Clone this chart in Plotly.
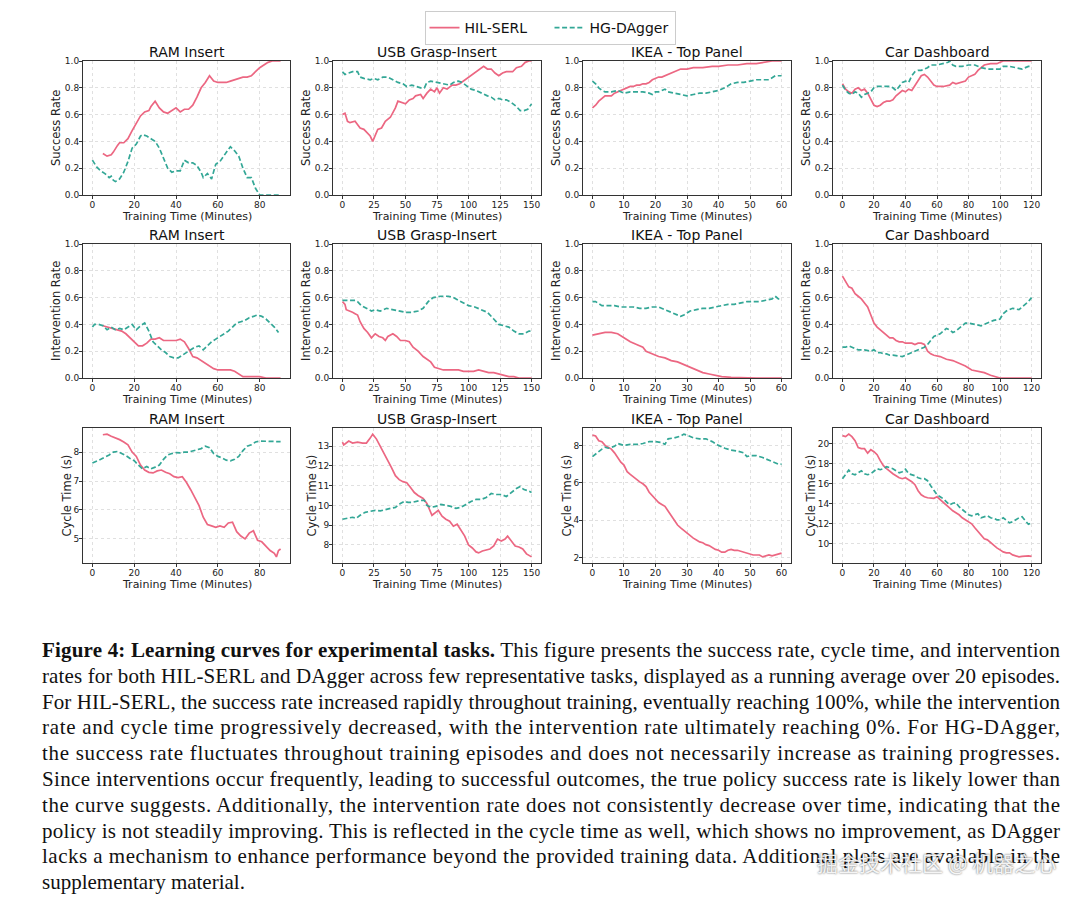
import plotly.graph_objects as go
from plotly.subplots import make_subplots

# ---------------- data ----------------
tasks = ["RAM Insert", "USB Grasp-Insert", "IKEA - Top Panel", "Car Dashboard"]
metric_titles = ["Success Rate", "Intervention Rate", "Cycle Time (s)"]
x_title = "Training Time (Minutes)"
series_names = ["HIL-SERL", "HG-DAgger"]
x_ticks = [[0, 20, 40, 60, 80], [0, 25, 50, 75, 100, 125, 150], [0, 10, 20, 30, 40, 50, 60], [0, 20, 40, 60, 80, 100, 120]]
cycle_ticks = [[5, 6, 7, 8], [8, 9, 10, 11, 12, 13], [2, 4, 6, 8], [10, 12, 14, 16, 18, 20]]
rate_ticks = [0.0, 0.2, 0.4, 0.6, 0.8, 1.0]

# Success rate
ram_sr_hil_t = [5, 7, 9, 10, 12, 13, 15, 17, 19, 21, 23, 25, 27, 28, 30, 32, 34, 36, 38, 40, 42, 44, 46, 48, 50, 52, 54, 56, 58, 60, 62, 64, 66, 68, 70, 72, 74, 76, 78, 80, 82, 84, 86, 88, 90]
ram_sr_hil = [0.31, 0.29, 0.30, 0.32, 0.37, 0.39, 0.39, 0.42, 0.48, 0.53, 0.59, 0.62, 0.63, 0.66, 0.70, 0.65, 0.62, 0.61, 0.63, 0.65, 0.62, 0.64, 0.64, 0.67, 0.73, 0.80, 0.84, 0.89, 0.85, 0.84, 0.84, 0.84, 0.85, 0.86, 0.87, 0.88, 0.88, 0.89, 0.92, 0.95, 0.97, 0.99, 1.0, 1.0, 1.0]
ram_sr_dag_t = [0, 2, 4, 6, 8, 9, 10, 11, 13, 15, 17, 19, 21, 23, 24, 26, 28, 30, 32, 34, 36, 38, 40, 42, 44, 46, 48, 50, 52, 53, 55, 57, 59, 61, 63, 65, 66, 68, 70, 72, 74, 76, 78, 80, 82, 85, 90]
ram_sr_dag = [0.26, 0.21, 0.18, 0.16, 0.13, 0.14, 0.11, 0.10, 0.12, 0.17, 0.25, 0.35, 0.38, 0.44, 0.45, 0.44, 0.42, 0.40, 0.35, 0.28, 0.20, 0.17, 0.18, 0.18, 0.26, 0.24, 0.24, 0.22, 0.17, 0.13, 0.16, 0.12, 0.23, 0.25, 0.30, 0.34, 0.36, 0.33, 0.29, 0.20, 0.13, 0.13, 0.05, 0.0, 0.0, 0.0, 0.0]

usb_sr_hil_t = [0, 2, 4, 6, 10, 12, 14, 17, 19, 22, 24, 26, 28, 31, 34, 38, 42, 44, 47, 50, 53, 56, 58, 62, 64, 67, 70, 73, 75, 77, 80, 83, 87, 90, 93, 96, 99, 102, 105, 108, 112, 115, 118, 121, 124, 127, 130, 135, 138, 142, 145, 148, 150]
usb_sr_hil = [0.60, 0.61, 0.55, 0.54, 0.55, 0.52, 0.50, 0.49, 0.47, 0.44, 0.40, 0.45, 0.49, 0.50, 0.55, 0.58, 0.65, 0.70, 0.69, 0.68, 0.71, 0.72, 0.74, 0.75, 0.72, 0.76, 0.79, 0.77, 0.80, 0.76, 0.80, 0.79, 0.82, 0.82, 0.83, 0.85, 0.87, 0.89, 0.91, 0.93, 0.96, 0.94, 0.94, 0.91, 0.89, 0.91, 0.92, 0.92, 0.95, 0.96, 0.99, 1.0, 1.0]
usb_sr_dag_t = [0, 2, 5, 8, 12, 14, 17, 22, 25, 28, 32, 36, 40, 44, 48, 51, 55, 58, 62, 65, 67, 70, 75, 80, 85, 88, 92, 95, 98, 102, 106, 110, 115, 118, 121, 124, 127, 130, 134, 138, 141, 144, 147, 150]
usb_sr_dag = [0.92, 0.90, 0.91, 0.92, 0.92, 0.88, 0.87, 0.86, 0.87, 0.86, 0.88, 0.88, 0.86, 0.84, 0.83, 0.81, 0.82, 0.81, 0.80, 0.80, 0.84, 0.85, 0.84, 0.83, 0.82, 0.84, 0.85, 0.84, 0.82, 0.79, 0.78, 0.76, 0.74, 0.73, 0.71, 0.72, 0.71, 0.71, 0.69, 0.66, 0.63, 0.63, 0.64, 0.68]

ikea_sr_hil_t = [0, 1, 2, 3, 4, 5, 6, 7, 8, 9, 10, 11, 12, 13, 14, 15, 16, 17, 18, 19, 20, 21, 22, 23, 24, 25, 26, 27, 28, 30, 32, 35, 38, 40, 43, 46, 49, 52, 55, 57, 60]
ikea_sr_hil = [0.65, 0.67, 0.70, 0.72, 0.74, 0.74, 0.74, 0.76, 0.77, 0.78, 0.79, 0.80, 0.81, 0.81, 0.82, 0.82, 0.83, 0.83, 0.84, 0.86, 0.87, 0.88, 0.88, 0.89, 0.90, 0.91, 0.92, 0.93, 0.94, 0.94, 0.95, 0.95, 0.96, 0.96, 0.97, 0.97, 0.98, 0.98, 0.99, 1.0, 1.0]
ikea_sr_dag_t = [0, 1, 2, 3, 4, 6, 8, 10, 12, 14, 16, 18, 19, 20, 21, 23, 24, 26, 28, 30, 32, 34, 36, 38, 40, 42, 44, 46, 48, 50, 52, 54, 56, 58, 59, 60]
ikea_sr_dag = [0.85, 0.83, 0.80, 0.78, 0.77, 0.77, 0.78, 0.76, 0.77, 0.77, 0.77, 0.76, 0.75, 0.77, 0.77, 0.79, 0.77, 0.76, 0.75, 0.74, 0.75, 0.76, 0.76, 0.77, 0.78, 0.80, 0.83, 0.84, 0.84, 0.85, 0.86, 0.86, 0.86, 0.89, 0.89, 0.89]

car_sr_hil_t = [0, 1, 2, 4, 6, 8, 10, 12, 14, 16, 18, 20, 22, 24, 26, 28, 30, 32, 34, 36, 38, 40, 42, 44, 46, 48, 50, 52, 54, 56, 58, 60, 64, 68, 70, 72, 76, 78, 80, 84, 86, 90, 94, 98, 100, 102, 120]
car_sr_hil = [0.83, 0.81, 0.79, 0.77, 0.76, 0.79, 0.80, 0.78, 0.79, 0.76, 0.72, 0.67, 0.66, 0.67, 0.69, 0.70, 0.70, 0.71, 0.74, 0.76, 0.78, 0.77, 0.79, 0.78, 0.82, 0.86, 0.89, 0.90, 0.88, 0.85, 0.82, 0.81, 0.81, 0.82, 0.84, 0.83, 0.84, 0.85, 0.88, 0.90, 0.93, 0.97, 0.98, 0.98, 0.99, 1.0, 1.0]
car_sr_dag_t = [0, 2, 4, 6, 8, 10, 12, 14, 16, 18, 20, 22, 26, 30, 32, 34, 36, 38, 40, 42, 44, 46, 48, 50, 54, 56, 60, 64, 67, 68, 70, 72, 76, 80, 84, 88, 92, 96, 100, 102, 106, 110, 114, 118, 120]
car_sr_dag = [0.82, 0.78, 0.76, 0.75, 0.77, 0.76, 0.73, 0.75, 0.76, 0.77, 0.80, 0.81, 0.81, 0.81, 0.80, 0.78, 0.81, 0.84, 0.85, 0.84, 0.89, 0.92, 0.93, 0.93, 0.95, 0.97, 0.97, 0.98, 0.99, 1.0, 0.97, 0.96, 0.96, 0.97, 0.97, 0.95, 0.94, 0.94, 0.94, 0.96, 0.96, 0.95, 0.94, 0.96, 0.96]

# Intervention rate
ram_ir_hil_t = [5, 7, 10, 12, 14, 16, 18, 20, 22, 24, 26, 28, 30, 32, 34, 36, 38, 40, 42, 44, 46, 48, 50, 52, 54, 56, 58, 60, 62, 64, 66, 68, 70, 72, 76, 80, 83, 86, 90]
ram_ir_hil = [0.39, 0.38, 0.37, 0.36, 0.35, 0.33, 0.30, 0.27, 0.24, 0.24, 0.26, 0.29, 0.29, 0.30, 0.28, 0.28, 0.28, 0.28, 0.29, 0.27, 0.22, 0.16, 0.15, 0.13, 0.11, 0.09, 0.07, 0.06, 0.06, 0.06, 0.06, 0.05, 0.03, 0.01, 0.01, 0.01, 0.0, 0.0, 0.0]
ram_ir_dag_t = [0, 1, 3, 5, 7, 9, 11, 13, 15, 17, 19, 21, 23, 25, 27, 29, 31, 33, 35, 37, 39, 41, 43, 45, 47, 49, 51, 53, 55, 57, 59, 61, 63, 65, 67, 69, 71, 73, 75, 77, 79, 81, 83, 85, 87, 89]
ram_ir_dag = [0.38, 0.40, 0.40, 0.39, 0.36, 0.38, 0.36, 0.37, 0.36, 0.38, 0.40, 0.36, 0.39, 0.41, 0.35, 0.27, 0.24, 0.21, 0.19, 0.16, 0.15, 0.15, 0.17, 0.19, 0.21, 0.23, 0.24, 0.21, 0.24, 0.27, 0.29, 0.31, 0.33, 0.35, 0.38, 0.41, 0.42, 0.43, 0.45, 0.46, 0.47, 0.46, 0.44, 0.41, 0.38, 0.34]

usb_ir_hil_t = [0, 2, 3, 6, 8, 10, 12, 14, 17, 20, 23, 26, 29, 32, 34, 36, 40, 43, 46, 50, 53, 56, 60, 64, 67, 70, 73, 76, 80, 84, 88, 92, 96, 100, 104, 108, 112, 116, 120, 124, 128, 132, 136, 140, 150]
usb_ir_hil = [0.57, 0.55, 0.51, 0.50, 0.49, 0.48, 0.47, 0.42, 0.37, 0.34, 0.30, 0.33, 0.31, 0.30, 0.28, 0.31, 0.33, 0.31, 0.28, 0.28, 0.27, 0.23, 0.20, 0.16, 0.14, 0.12, 0.08, 0.07, 0.06, 0.06, 0.06, 0.06, 0.05, 0.05, 0.05, 0.06, 0.05, 0.04, 0.04, 0.03, 0.02, 0.01, 0.01, 0.0, 0.0]
usb_ir_dag_t = [0, 5, 10, 12, 15, 19, 23, 26, 30, 35, 40, 45, 50, 55, 60, 64, 68, 72, 78, 84, 88, 92, 96, 100, 105, 110, 115, 120, 124, 128, 132, 136, 140, 144, 148, 150]
usb_ir_dag = [0.58, 0.58, 0.58, 0.57, 0.54, 0.52, 0.50, 0.51, 0.50, 0.52, 0.51, 0.50, 0.49, 0.49, 0.50, 0.52, 0.57, 0.60, 0.61, 0.61, 0.60, 0.58, 0.56, 0.54, 0.53, 0.51, 0.49, 0.44, 0.40, 0.39, 0.38, 0.35, 0.33, 0.33, 0.35, 0.35]

ikea_ir_hil_t = [0, 2, 4, 6, 8, 10, 12, 14, 16, 17, 19, 21, 23, 25, 27, 29, 31, 33, 35, 37, 39, 41, 44, 48, 52, 60]
ikea_ir_hil = [0.32, 0.33, 0.34, 0.34, 0.33, 0.30, 0.27, 0.25, 0.23, 0.20, 0.18, 0.16, 0.15, 0.13, 0.12, 0.10, 0.08, 0.06, 0.04, 0.03, 0.02, 0.01, 0.005, 0.0, 0.0, 0.0]
ikea_ir_dag_t = [0, 1, 3, 5, 7, 9, 11, 13, 15, 17, 19, 21, 23, 25, 27, 28, 29, 31, 33, 35, 37, 39, 41, 43, 45, 47, 49, 51, 53, 55, 57, 58, 59, 60]
ikea_ir_dag = [0.57, 0.57, 0.54, 0.54, 0.54, 0.53, 0.53, 0.53, 0.52, 0.52, 0.53, 0.53, 0.51, 0.49, 0.47, 0.46, 0.47, 0.50, 0.51, 0.52, 0.52, 0.53, 0.54, 0.55, 0.55, 0.56, 0.57, 0.57, 0.57, 0.58, 0.59, 0.61, 0.59, 0.59]

car_ir_hil_t = [0, 2, 4, 6, 8, 10, 12, 14, 16, 18, 20, 22, 24, 26, 28, 30, 32, 34, 36, 38, 40, 44, 46, 48, 50, 52, 54, 56, 58, 62, 66, 70, 74, 78, 82, 86, 90, 94, 98, 100, 120]
car_ir_hil = [0.76, 0.72, 0.68, 0.67, 0.63, 0.61, 0.59, 0.56, 0.53, 0.47, 0.41, 0.38, 0.36, 0.34, 0.32, 0.30, 0.30, 0.28, 0.27, 0.27, 0.26, 0.26, 0.25, 0.26, 0.26, 0.25, 0.20, 0.18, 0.17, 0.16, 0.14, 0.13, 0.11, 0.09, 0.06, 0.05, 0.04, 0.02, 0.005, 0.0, 0.0]
car_ir_dag_t = [0, 2, 4, 6, 8, 10, 14, 18, 20, 22, 24, 26, 28, 30, 32, 36, 38, 40, 44, 48, 52, 54, 56, 58, 62, 66, 68, 70, 72, 74, 78, 80, 84, 88, 92, 96, 100, 102, 104, 108, 112, 114, 116, 118, 120]
car_ir_dag = [0.23, 0.23, 0.24, 0.23, 0.22, 0.21, 0.21, 0.20, 0.21, 0.19, 0.19, 0.18, 0.18, 0.17, 0.17, 0.16, 0.16, 0.17, 0.19, 0.21, 0.23, 0.25, 0.28, 0.31, 0.33, 0.37, 0.36, 0.34, 0.35, 0.37, 0.41, 0.41, 0.40, 0.39, 0.41, 0.43, 0.44, 0.48, 0.50, 0.52, 0.51, 0.53, 0.55, 0.57, 0.60]

# Cycle time
ram_ct_hil_t = [5, 7, 9, 11, 13, 15, 17, 19, 21, 23, 25, 27, 29, 31, 33, 35, 37, 39, 41, 43, 45, 47, 49, 51, 53, 55, 57, 59, 61, 63, 65, 67, 69, 71, 73, 75, 77, 79, 81, 83, 85, 87, 88, 89, 90]
ram_ct_hil = [8.60, 8.62, 8.55, 8.50, 8.43, 8.35, 8.25, 8.00, 7.85, 7.55, 7.38, 7.30, 7.28, 7.35, 7.38, 7.30, 7.25, 7.15, 7.12, 7.15, 6.95, 6.70, 6.45, 6.15, 5.75, 5.50, 5.45, 5.40, 5.45, 5.40, 5.55, 5.58, 5.25, 5.10, 5.00, 5.20, 5.28, 4.95, 4.90, 4.75, 4.60, 4.50, 4.38, 4.60, 4.65]
ram_ct_dag_t = [0, 2, 4, 6, 8, 10, 12, 14, 16, 18, 20, 22, 24, 26, 28, 30, 32, 34, 36, 38, 40, 42, 44, 46, 48, 50, 52, 54, 56, 58, 60, 62, 64, 66, 68, 70, 72, 74, 76, 78, 80, 84, 88, 90]
ram_ct_dag = [7.62, 7.68, 7.75, 7.83, 7.90, 8.00, 8.02, 7.95, 7.88, 7.78, 7.70, 7.55, 7.42, 7.50, 7.42, 7.48, 7.55, 7.75, 7.90, 7.95, 7.98, 7.97, 8.00, 8.00, 8.05, 8.08, 8.12, 8.20, 8.15, 7.95, 7.85, 7.80, 7.72, 7.70, 7.75, 7.85, 8.05, 8.20, 8.25, 8.35, 8.38, 8.37, 8.38, 8.36]

usb_ct_hil_t = [0, 1, 3, 5, 8, 12, 16, 19, 22, 24, 27, 30, 33, 36, 39, 42, 45, 48, 51, 54, 57, 60, 64, 67, 69, 71, 74, 76, 79, 82, 85, 88, 91, 94, 97, 100, 103, 106, 108, 111, 114, 117, 120, 123, 126, 129, 131, 134, 137, 140, 143, 146, 149, 150]
usb_ct_hil = [13.20, 13.05, 13.15, 13.25, 13.15, 13.20, 13.15, 13.15, 13.40, 13.60, 13.35, 13.00, 12.60, 12.30, 11.90, 11.50, 11.30, 11.20, 11.15, 10.90, 10.65, 10.50, 10.35, 10.10, 9.80, 9.50, 9.65, 9.75, 9.45, 9.30, 9.20, 8.95, 9.05, 8.75, 8.45, 8.00, 7.85, 7.65, 7.60, 7.70, 7.75, 7.80, 7.95, 8.30, 8.20, 8.30, 8.45, 8.20, 7.95, 7.90, 7.80, 7.55, 7.45, 7.40]
usb_ct_dag_t = [0, 4, 8, 11, 14, 18, 22, 26, 30, 34, 38, 42, 46, 49, 52, 55, 58, 62, 65, 67, 70, 74, 78, 82, 86, 90, 94, 98, 102, 106, 110, 114, 118, 122, 126, 130, 134, 138, 141, 144, 147, 150]
usb_ct_dag = [9.30, 9.35, 9.40, 9.35, 9.50, 9.65, 9.70, 9.75, 9.72, 9.80, 9.85, 9.90, 10.10, 10.20, 10.15, 10.15, 10.20, 10.25, 10.25, 10.00, 9.90, 9.95, 10.05, 10.00, 9.95, 9.85, 9.90, 10.05, 10.20, 10.30, 10.30, 10.40, 10.60, 10.55, 10.55, 10.45, 10.65, 10.85, 10.95, 10.80, 10.75, 10.65]

ikea_ct_hil_t = list(range(0, 61))
ikea_ct_hil = [8.55, 8.50, 8.25, 8.20, 8.00, 7.90, 7.80, 7.60, 7.35, 7.10, 6.95, 6.60, 6.45, 6.30, 6.20, 6.05, 5.95, 5.80, 5.50, 5.30, 5.10, 4.95, 4.85, 4.75, 4.50, 4.25, 4.00, 3.75, 3.60, 3.45, 3.35, 3.20, 3.05, 2.95, 2.85, 2.80, 2.70, 2.65, 2.55, 2.45, 2.40, 2.30, 2.30, 2.40, 2.45, 2.40, 2.40, 2.35, 2.30, 2.25, 2.20, 2.15, 2.15, 2.15, 2.05, 2.10, 2.15, 2.10, 2.15, 2.20, 2.25]
ikea_ct_dag_t = [0, 1, 2, 3, 4, 5, 6, 7, 8, 9, 10, 12, 14, 16, 18, 20, 22, 23, 24, 26, 28, 29, 30, 32, 34, 36, 38, 40, 42, 44, 46, 48, 49, 50, 52, 54, 56, 58, 59, 60]
ikea_ct_dag = [7.40, 7.55, 7.70, 7.80, 7.90, 7.85, 7.90, 7.95, 8.10, 8.05, 8.00, 8.05, 8.05, 8.10, 8.20, 8.20, 8.15, 8.05, 8.35, 8.40, 8.50, 8.60, 8.55, 8.40, 8.35, 8.35, 8.20, 8.00, 7.85, 7.75, 7.70, 7.60, 7.40, 7.45, 7.45, 7.35, 7.20, 7.05, 7.00, 7.00]

car_ct_hil_t = list(range(0, 121, 2))
car_ct_hil = [20.80, 20.70, 20.95, 20.70, 20.30, 19.60, 19.50, 19.50, 19.05, 19.40, 19.20, 18.90, 18.30, 17.80, 17.50, 17.20, 17.00, 16.80, 16.60, 16.50, 16.60, 16.40, 16.20, 15.90, 15.30, 14.90, 14.70, 14.60, 14.60, 14.55, 14.70, 14.40, 14.10, 13.90, 13.60, 13.30, 13.10, 12.90, 12.60, 12.40, 12.20, 12.00, 11.60, 11.20, 10.80, 10.50, 10.40, 10.10, 9.80, 9.60, 9.40, 9.20, 9.10, 9.10, 8.90, 8.80, 8.70, 8.75, 8.80, 8.80, 8.75]
car_ct_dag_t = list(range(0, 121, 2))
car_ct_dag = [16.50, 16.90, 17.35, 17.00, 16.90, 17.10, 17.30, 17.00, 16.90, 17.00, 17.30, 17.50, 17.40, 17.50, 17.70, 17.60, 17.50, 17.30, 17.10, 17.20, 17.45, 17.00, 16.90, 16.80, 16.60, 16.50, 16.50, 16.30, 15.80, 15.30, 14.90, 14.70, 14.50, 14.20, 13.90, 14.05, 14.10, 13.70, 13.40, 13.20, 12.90, 12.80, 12.90, 13.00, 12.60, 12.70, 12.80, 12.60, 12.55, 12.40, 12.40, 12.60, 12.30, 12.10, 12.20, 12.40, 12.60, 12.70, 12.30, 11.95, 12.10]

caption_lines = [
    "<b>Figure 4: Learning curves for experimental tasks.</b> This figure presents the success rate, cycle time, and intervention",
    "rates for both HIL-SERL and DAgger across few representative tasks, displayed as a running average over 20 episodes.",
    "For HIL-SERL, the success rate increased rapidly throughout training, eventually reaching 100%, while the intervention",
    "rate and cycle time progressively decreased, with the intervention rate ultimately reaching 0%. For HG-DAgger,",
    "the success rate fluctuates throughout training episodes and does not necessarily increase as training progresses.",
    "Since interventions occur frequently, leading to successful outcomes, the true policy success rate is likely lower than",
    "the curve suggests. Additionally, the intervention rate does not consistently decrease over time, indicating that the",
    "policy is not steadily improving. This is reflected in the cycle time as well, which shows no improvement, as DAgger",
    "lacks a mechanism to enhance performance beyond the provided training data. Additional plots are available in the",
    "supplementary material.",
]
watermark = "掘金技术社区 @ 机器之心"

# ---------------- assemble ----------------
grid = [
    [(ram_sr_hil_t, ram_sr_hil, ram_sr_dag_t, ram_sr_dag), (usb_sr_hil_t, usb_sr_hil, usb_sr_dag_t, usb_sr_dag),
     (ikea_sr_hil_t, ikea_sr_hil, ikea_sr_dag_t, ikea_sr_dag), (car_sr_hil_t, car_sr_hil, car_sr_dag_t, car_sr_dag)],
    [(ram_ir_hil_t, ram_ir_hil, ram_ir_dag_t, ram_ir_dag), (usb_ir_hil_t, usb_ir_hil, usb_ir_dag_t, usb_ir_dag),
     (ikea_ir_hil_t, ikea_ir_hil, ikea_ir_dag_t, ikea_ir_dag), (car_ir_hil_t, car_ir_hil, car_ir_dag_t, car_ir_dag)],
    [(ram_ct_hil_t, ram_ct_hil, ram_ct_dag_t, ram_ct_dag), (usb_ct_hil_t, usb_ct_hil, usb_ct_dag_t, usb_ct_dag),
     (ikea_ct_hil_t, ikea_ct_hil, ikea_ct_dag_t, ikea_ct_dag), (car_ct_hil_t, car_ct_hil, car_ct_dag_t, car_ct_dag)],
]

W, H = 1080, 900
PINK = "#ec6782"
TEAL = "#33a796"
col_px = [(83, 290), (333, 541), (583, 791), (833, 1041)]
row_px = [(61, 195), (244, 378), (428, 563)]
ytitle_gap = [[27, 27, 27, 27], [27, 27, 27, 27], [17, 22, 17, 23]]  # px from axis left edge to title centre

fig = make_subplots(rows=3, cols=4)

FONT = "DejaVu Sans"
TXT = "#222222"
annotations = []
for r in range(3):
    for c in range(4):
        idx = r * 4 + c + 1
        th, yh, td, yd = grid[r][c]
        fig.add_trace(go.Scatter(x=th, y=yh, mode="lines", name=series_names[0], legendgroup="a",
                                 showlegend=(idx == 1), line=dict(color=PINK, width=1.7)), row=r + 1, col=c + 1)
        fig.add_trace(go.Scatter(x=td, y=yd, mode="lines", name=series_names[1], legendgroup="b",
                                 showlegend=(idx == 1), line=dict(color=TEAL, width=1.7, dash="5px,2.6px")),
                      row=r + 1, col=c + 1)
        x0, x1 = col_px[c]
        y0, y1 = row_px[r]
        xmax = max(max(th), max(td))
        pad = 0.05 * xmax
        if r < 2:
            yrange = [0, 1]
            tickvals = rate_ticks
            ticktext = ["%.1f" % v for v in rate_ticks]
        else:
            allv = yh + yd
            lo, hi = min(allv), max(allv)
            m = 0.05 * (hi - lo)
            yrange = [lo - m, hi + m]
            tickvals = cycle_ticks[c]
            ticktext = [str(v) for v in cycle_ticks[c]]
        axcommon = dict(showline=True, linecolor="#333333", linewidth=1, mirror=True, automargin=False,
                        ticks="outside", ticklen=3, tickwidth=0.9, tickcolor="#333333",
                        showgrid=True, gridcolor="#e0e0e0", gridwidth=0.8, griddash="dot",
                        zeroline=False, tickfont=dict(family=FONT, size=9, color=TXT))
        fig.update_xaxes(row=r + 1, col=c + 1, domain=[x0 / W, x1 / W], range=[-pad, xmax + pad],
                         tickvals=x_ticks[c], ticktext=[str(v) for v in x_ticks[c]],
                         ticklabelstandoff=-2, **axcommon)
        fig.update_yaxes(row=r + 1, col=c + 1, domain=[1 - y1 / H, 1 - y0 / H], range=yrange,
                         tickvals=tickvals, ticktext=ticktext, ticklabelstandoff=-2, **axcommon)
        # subplot title
        annotations.append(dict(text=tasks[c], x=(x0 + x1) / 2 / W, y=1 - (y0 + 0.5) / H, xref="paper",
                                yref="paper", xanchor="center", yanchor="bottom", showarrow=False,
                                font=dict(family=FONT, size=14, color="#111111")))
        # x axis title
        annotations.append(dict(text=x_title, x=(x0 + x1) / 2 / W, y=1 - (y1 + 21) / H, xref="paper",
                                yref="paper", xanchor="center", yanchor="middle", showarrow=False,
                                font=dict(family=FONT, size=11, color=TXT)))
        # y axis title
        annotations.append(dict(text=metric_titles[r], x=(x0 - ytitle_gap[r][c]) / W, y=1 - (y0 + y1) / 2 / H,
                                xref="paper", yref="paper", xanchor="center", yanchor="middle", textangle=-90,
                                showarrow=False, font=dict(family=FONT, size=11.5, color=TXT)))

n_before = len(annotations)
line0 = 650
gap = 25.8
for i, ln in enumerate(caption_lines):
    annotations.append(dict(text=ln, x=40 / W, y=1 - (line0 + i * gap) / H, xref="paper", yref="paper",
                            xanchor="left", yanchor="middle", align="left", showarrow=False,
                            font=dict(family="Liberation Serif", size=21, color="#111111")))
annotations.append(dict(text=watermark, x=1058 / W, y=1 - 862 / H, xref="paper", yref="paper",
                        xanchor="right", yanchor="middle", showarrow=False,
                        font=dict(family="Noto Sans CJK SC", size=21, color="rgba(255,255,255,0.92)",
                                  shadow="0px 0px 2px rgba(0,0,0,0.75)")))

fig.update_layout(
    width=W, height=H, margin=dict(l=0, r=0, t=0, b=0, autoexpand=False),
    paper_bgcolor="white", plot_bgcolor="white",
    annotations=annotations,
    showlegend=True,
    legend=dict(orientation="h", x=550 / W, xanchor="center", y=1 - 11 / H, yanchor="top",
                bordercolor="#cccccc", borderwidth=1, bgcolor="white",
                font=dict(family=FONT, size=14, color="#111111"), itemwidth=30, tracegroupgap=0,
                entrywidth=80, entrywidthmode="pixels"),
)

# page without default body margin; justify the full caption lines (all but the last)
justify_idx = list(range(n_before, n_before + len(caption_lines) - 1))
js = """
document.body.style.margin = '0';
var gd = document.getElementById('{plot_id}');
var idx = %s;
idx.forEach(function(i){
  var t = gd.querySelector('.annotation[data-index="' + i + '"] text.annotation-text');
  if (t) { t.setAttribute('textLength', '1018'); t.setAttribute('lengthAdjust', 'spacing'); }
});
""" % str(justify_idx)

fig.write_html("out.html", post_script=js, config={"displayModeBar": False})
